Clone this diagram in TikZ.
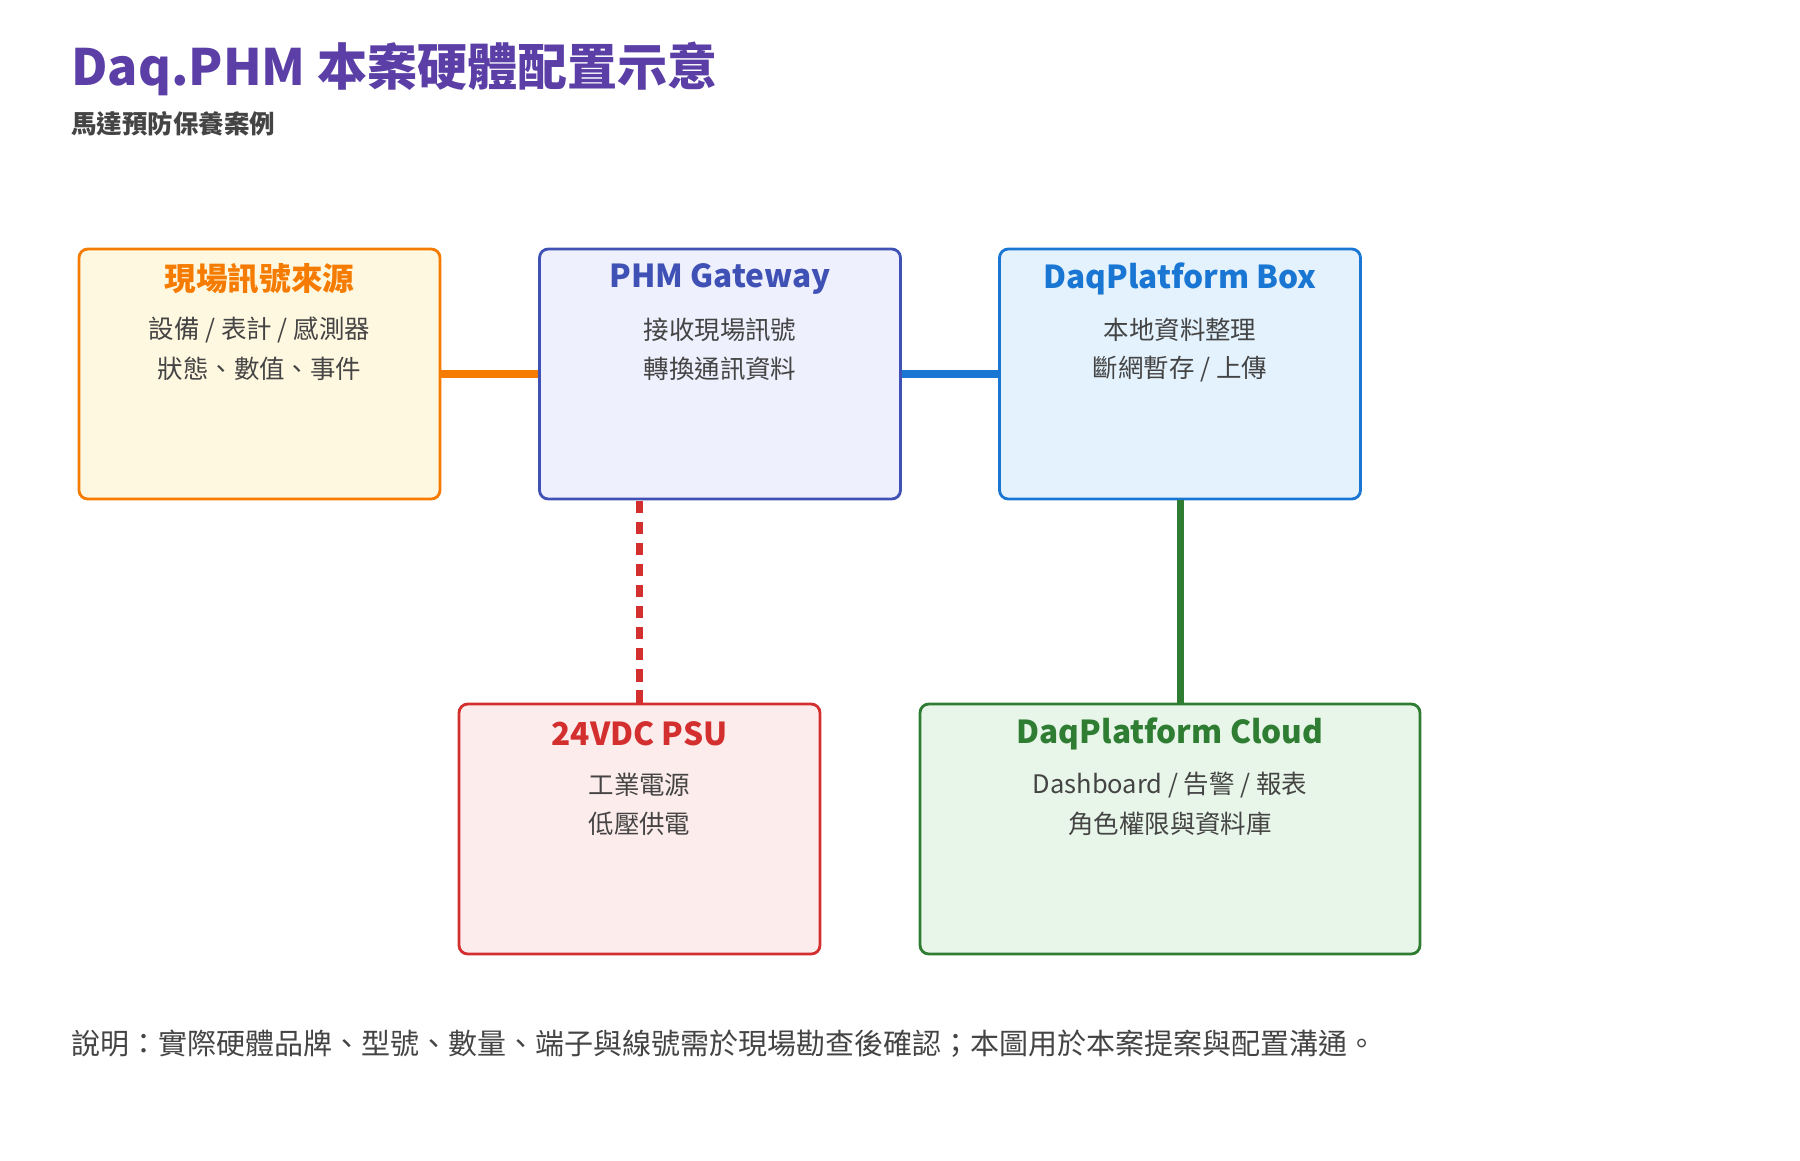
\documentclass[tikz,border=0pt]{standalone}
\usepackage{fontspec}
\setmainfont{Noto Sans CJK TC}
\usetikzlibrary{positioning}
\definecolor{ttl}{HTML}{5B3FA6}
\definecolor{txt}{HTML}{444444}
\definecolor{orgD}{HTML}{F57C00}\definecolor{orgL}{HTML}{FFF8E1}
\definecolor{indD}{HTML}{3F51B5}\definecolor{indL}{HTML}{EEF0FD}
\definecolor{bluD}{HTML}{1976D2}\definecolor{bluL}{HTML}{E3F2FD}
\definecolor{redD}{HTML}{D32F2F}\definecolor{redL}{HTML}{FDECEC}
\definecolor{grnD}{HTML}{2E7D32}\definecolor{grnL}{HTML}{E8F5E9}
\tikzset{
  box/.style={draw=#1D, fill=#1L, line width=1.6pt, rounded corners=5pt,
    minimum width=7.22cm, minimum height=5cm, inner sep=0pt},
  head/.style={text=#1D, font=\fontsize{18}{21}\selectfont\bfseries, anchor=center},
  body/.style={text=txt, font=\fontsize{14.5}{17}\selectfont, anchor=center},
  link/.style={draw=#1D, line width=4pt}
}
\begin{document}
\begin{tikzpicture}
\useasboundingbox (0,0) rectangle (36,-23.2);
% title
\node[anchor=west, inner sep=0pt, text=ttl, font=\fontsize{28.5}{32}\selectfont\bfseries] (title) at (1.42,-1.38) {Daq.PHM 本案硬體配置示意};
\node[anchor=west, inner sep=0pt, text=txt, font=\fontsize{14.5}{17}\selectfont\bfseries] (sub) at (1.42,-2.48) {馬達預防保養案例};

% boxes
\node[box=org] (src) at (5.19,-7.48) {};
\node[box=ind] (gw) at (14.4,-7.48) {};
\node[box=blu] (dbox) at (23.6,-7.48) {};
\node[box=red] (psu) at (12.79,-16.58) {};
\node[box=grn, minimum width=10cm] (cloud) at (23.4,-16.58) {};

% texts
\node[head=org] (srcT) at ([yshift=-0.62cm]src.north) {現場訊號來源};
\node[body] (srcA) at ([yshift=-1.64cm]src.north) {設備 / 表計 / 感測器};
\node[body] (srcB) at ([yshift=-2.42cm]src.north) {狀態、數值、事件};
\node[head=ind] (gwT) at ([yshift=-0.62cm]gw.north) {PHM Gateway};
\node[body] (gwA) at ([yshift=-1.64cm]gw.north) {接收現場訊號};
\node[body] (gwB) at ([yshift=-2.42cm]gw.north) {轉換通訊資料};
\node[head=blu] (dboxT) at ([yshift=-0.62cm]dbox.north) {DaqPlatform Box};
\node[body] (dboxA) at ([yshift=-1.64cm]dbox.north) {本地資料整理};
\node[body] (dboxB) at ([yshift=-2.42cm]dbox.north) {斷網暫存 / 上傳};
\node[head=red] (psuT) at ([yshift=-0.62cm]psu.north) {24VDC PSU};
\node[body] (psuA) at ([yshift=-1.64cm]psu.north) {工業電源};
\node[body] (psuB) at ([yshift=-2.42cm]psu.north) {低壓供電};
\node[head=grn] (cloudT) at ([yshift=-0.62cm]cloud.north) {DaqPlatform Cloud};
\node[body] (cloudA) at ([yshift=-1.64cm]cloud.north) {Dashboard / 告警 / 報表};
\node[body] (cloudB) at ([yshift=-2.42cm]cloud.north) {角色權限與資料庫};

% links
\draw[link=org] (src.east) -- (gw.west);
\draw[link=blu] (gw.east) -- (dbox.west);
\draw[link=red, dash pattern=on 7pt off 5pt] (psu.north) -- (psu.north |- gw.south);
\draw[link=grn] (dbox.south) -- (dbox.south |- cloud.north);

% note
\node[anchor=west, inner sep=0pt, text=txt, font=\fontsize{16.5}{19}\selectfont] (note) at (1.42,-20.88) {說明：實際硬體品牌、型號、數量、端子與線號需於現場勘查後確認；本圖用於本案提案與配置溝通。};
\end{tikzpicture}
\end{document}
